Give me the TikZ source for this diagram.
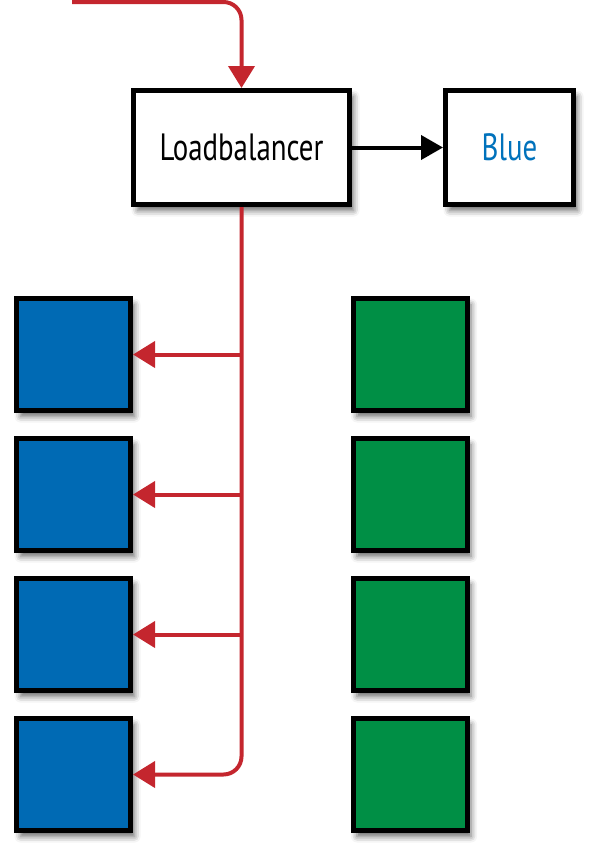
\documentclass[tikz,border=0pt]{standalone}
\usepackage{fontspec}
\setmainfont[FakeStretch=0.76]{PT Sans}
\usetikzlibrary{arrows.meta,shadows,shadows.blur}
\definecolor{lbred}{RGB}{196,38,46}
\definecolor{boxblue}{RGB}{0,106,180}
\definecolor{boxgreen}{RGB}{0,143,69}
\definecolor{textblue}{RGB}{0,114,188}
\tikzset{
  x=1pt, y=-1pt,
  boxshadow/.style={blur shadow={shadow xshift=4pt, shadow yshift=-6pt, shadow blur radius=6pt, shadow opacity=60}},
  labelbox/.style={draw=black, line width=5pt, fill=white, boxshadow, inner sep=0pt,
    minimum height=114pt, font=\fontsize{38}{42}\selectfont},
  square/.style={draw=black, line width=5pt, boxshadow, inner sep=0pt,
    minimum width=114pt, minimum height=112pt},
  redline/.style={draw=lbred, line width=4pt},
  redtip/.style={-{Triangle[width=26pt,length=22pt]}},
}
\begin{document}
\begin{tikzpicture}
\useasboundingbox (0,0) rectangle (602,863);
\node[labelbox, minimum width=216pt] (lb) at (241.5,147.5) {Loadbalancer};
\node[labelbox, minimum width=128pt, text=textblue] (blue) at (509.5,147.5) {Blue};
\foreach \i/\y in {1/354.5, 2/494.5, 3/634.5, 4/774.5} {
  \node[square, fill=boxblue] (b\i) at (73.5,\y) {};
  \node[square, fill=boxgreen] (g\i) at (410,\y) {};
}
\coordinate (start) at (72,2);
\draw[redline, redtip, rounded corners=18pt] (start) -- (lb.north |- start) -- (lb.north);
\draw[redline, redtip, rounded corners=18pt] (lb.south) -- (lb.south |- b4.east) -- (b4.east);
\foreach \i in {1,2,3} {
  \draw[redline, redtip] (lb.south |- b\i.east) -- (b\i.east);
}
\draw[line width=4pt, -{Triangle[width=24pt,length=22pt]}] (lb.east) -- (blue.west);
\end{tikzpicture}
\end{document}
